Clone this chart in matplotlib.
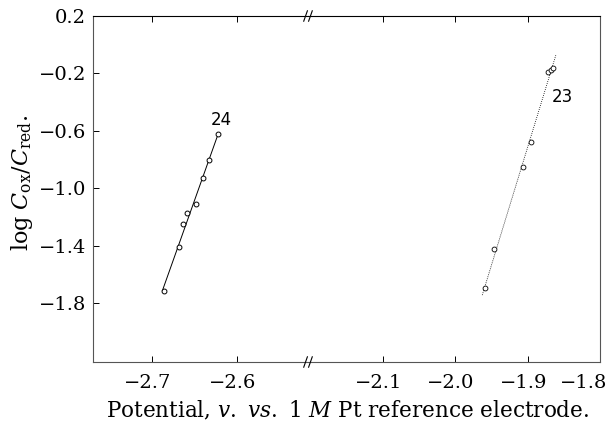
import numpy as np
import matplotlib
matplotlib.use("Agg")
import matplotlib.pyplot as plt
from matplotlib.transforms import ScaledTranslation

plt.rcParams["font.family"] = "serif"
plt.rcParams["font.serif"] = ["DejaVu Serif"]
plt.rcParams["mathtext.fontset"] = "dejavuserif"

# curve 24 (left part of broken axis)
x24 = [-2.686, -2.668, -2.663, -2.658, -2.648, -2.639, -2.632, -2.622]
y24 = [-1.714, -1.406, -1.248, -1.169, -1.108, -0.928, -0.805, -0.625]

# curve 23 (right part)
x23 = [-1.959, -1.946, -1.906, -1.895, -1.872, -1.867, -1.865]
y23 = [-1.697, -1.424, -0.851, -0.679, -0.190, -0.176, -0.159]

yticks = [0.2, -0.2, -0.6, -1.0, -1.4, -1.8]
xticks_left = [-2.7, -2.6]
xticks_right = [-2.1, -2.0, -1.9, -1.8]

fig = plt.figure(figsize=(6.1, 4.32), dpi=100)
L, S, R = 93 / 610, 308 / 610, 600 / 610
B, T = 1 - 362 / 432, 1 - 16 / 432
ax1 = fig.add_axes([L, B, S - L, T - B])
ax2 = fig.add_axes([S, B, R - S, T - B], sharey=ax1)

ax1.set_xlim(-2.769, -2.516)
ax2.set_xlim(-2.203, -1.8)
ax1.set_ylim(-2.21, 0.2)

# fitted line for 24
p = np.polyfit(y24, x24, 1)
yy = np.array([min(y24), max(y24)])
ax1.plot(np.polyval(p, yy), yy, color="black", lw=0.7)
ax1.plot(x24, y24, "o", mfc="white", mec="black", ms=3.5, mew=0.7)
ax1.text(-2.618, -0.56, "24", family="DejaVu Sans", fontsize=12, ha="center")

# dotted line for 23
p = np.polyfit(y23, x23, 1)
yy = np.array([-1.744, -0.073])
ax2.plot(np.polyval(p, yy), yy, color="black", lw=0.6, ls=(0, (1, 1.5)))
ax2.plot(x23, y23, "o", mfc="white", mec="black", ms=3.5, mew=0.6)
ax2.text(-1.866, -0.40, "23", family="DejaVu Sans", fontsize=12, ha="left")

for ax in (ax1, ax2):
    for s in ax.spines.values():
        s.set_linewidth(0.8)
        s.set_color("#555555")
    ax.spines["top"].set_color("black")
    ax.tick_params(direction="in", length=4, width=0.7, labelsize=14,
                   top=True, pad=9)
ax1.spines["right"].set_visible(False)
ax2.spines["left"].set_visible(False)

ax1.set_xticks(xticks_left)
ax1.set_xticklabels(["\u22122.7", "\u22122.6"])
ax2.set_xticks(xticks_right)
ax2.set_xticklabels(["\u22122.1", "\u22122.0", "\u22121.9", "\u22121.8"])
ax1.set_yticks(yticks)
ax1.set_yticklabels(["0.2", "\u22120.2", "\u22120.6", "\u22121.0", "\u22121.4", "\u22121.8"])
ax1.tick_params(axis="y", pad=5)
ax2.tick_params(axis="y", left=False, labelleft=False)

# nudge labels like the print: slightly left, last one kept inside the page
for lab in ax1.get_xticklabels() + ax2.get_xticklabels()[:-1]:
    lab.set_transform(lab.get_transform() + ScaledTranslation(-4 / 100, 0, fig.dpi_scale_trans))
last = ax2.get_xticklabels()[-1]
last.set_ha("right")
last.set_transform(last.get_transform() + ScaledTranslation(7 / 100, 0, fig.dpi_scale_trans))

# break marks
for yf in (0, 1):
    for dx in (-0.004, 0.004):
        fig.add_artist(plt.Line2D([S + dx - 0.003, S + dx + 0.003],
                                  [B + yf * (T - B) - 0.012, B + yf * (T - B) + 0.012],
                                  color="black", lw=0.8))

fig.text(348 / 610, 1 - 411 / 432,
         r"Potential, $\mathit{v.}$ $\mathit{vs.}$ 1 $\mathit{M}$ Pt reference electrode.",
         ha="center", va="center", fontsize=15.5)
fig.text(22 / 610, 1 - 183 / 432, r"log $C_{\mathrm{ox}}/C_{\mathrm{red}}$.",
         rotation=90, ha="center", va="center", fontsize=16)

fig.savefig("out.png", dpi=100)
